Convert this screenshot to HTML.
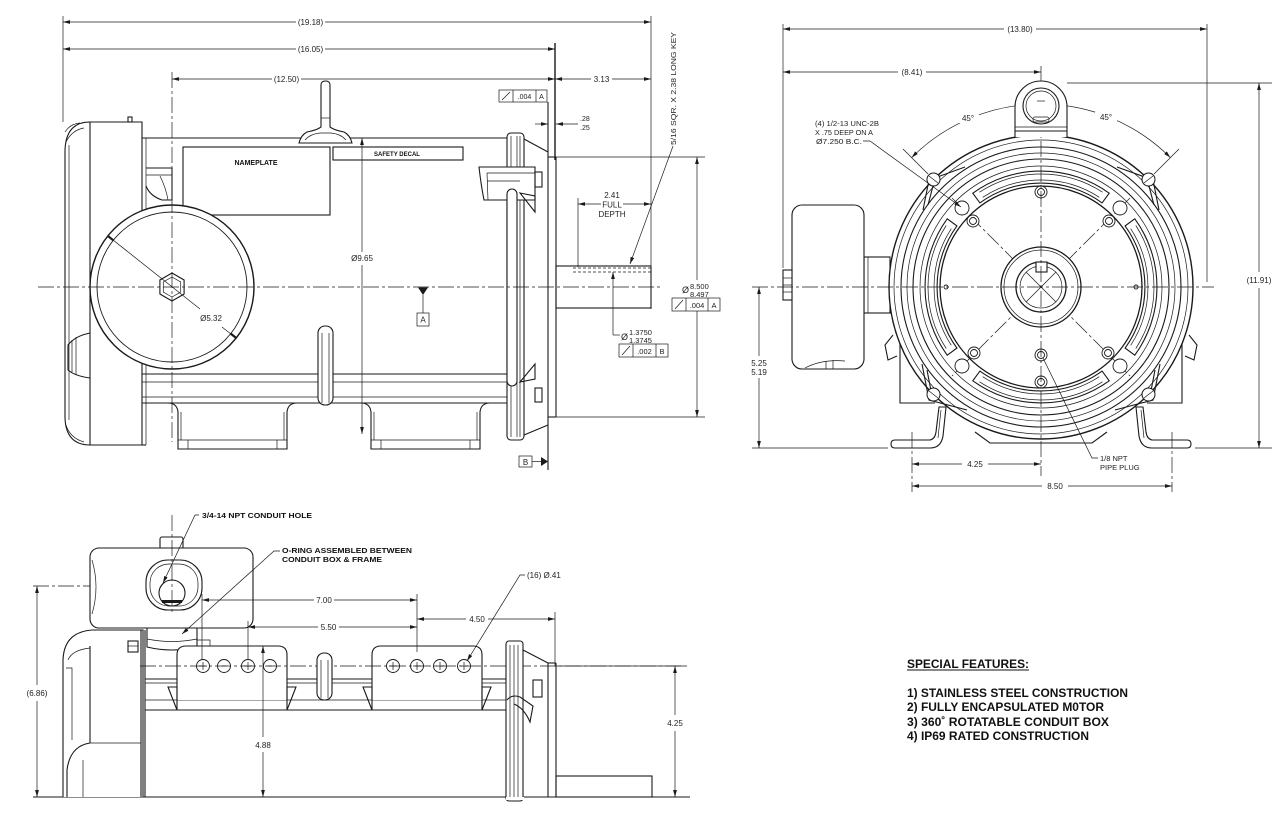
<!DOCTYPE html>
<html><head><meta charset="utf-8"><style>
html,body{margin:0;padding:0;background:#fff}
svg{display:block}
.o{fill:none;stroke:#1a1a1a;stroke-width:1.1}
.w{fill:#fff;stroke:#1a1a1a;stroke-width:1.1}
.th{fill:none;stroke:#1a1a1a;stroke-width:0.7}
.d{fill:none;stroke:#1a1a1a;stroke-width:0.7}
.cl{fill:none;stroke:#1a1a1a;stroke-width:0.7;stroke-dasharray:16 3 3 3}
.t{font-family:"Liberation Sans",Arial,sans-serif;font-size:8px;fill:#222}
.b{font-family:"Liberation Sans",Arial,sans-serif;font-weight:bold;fill:#111}
</style></head><body>
<svg width="1280" height="824" viewBox="0 0 1280 824" xmlns="http://www.w3.org/2000/svg">
<defs>
<marker id="a" viewBox="0 0 10 6" refX="10" refY="3" markerWidth="7" markerHeight="4.2" markerUnits="userSpaceOnUse" orient="auto-start-reverse"><path d="M0 0.3 L10 3 L0 5.7z" fill="#1a1a1a"/></marker>
</defs>
<rect width="1280" height="824" fill="#fff"/>

<!-- ================= TOP-LEFT SIDE VIEW ================= -->
<g>
<!-- extension lines -->
<line class="d" x1="63" y1="16" x2="63" y2="122"/>
<line class="d" x1="651" y1="16" x2="651" y2="309"/>
<line class="o" x1="555" y1="43" x2="555" y2="160" style="stroke-width:1.4"/>
<!-- 19.18 -->
<line class="d" x1="63" y1="22" x2="296" y2="22" marker-start="url(#a)"/>
<line class="d" x1="325" y1="22" x2="651" y2="22" marker-end="url(#a)"/>
<text class="t" x="310.5" y="25" text-anchor="middle">(19.18)</text>
<!-- 16.05 -->
<line class="d" x1="63" y1="49" x2="296" y2="49" marker-start="url(#a)"/>
<line class="d" x1="325" y1="49" x2="555" y2="49" marker-end="url(#a)"/>
<text class="t" x="310.5" y="52" text-anchor="middle">(16.05)</text>
<!-- 12.50 / 3.13 -->
<line class="d" x1="172" y1="79" x2="272" y2="79" marker-start="url(#a)"/>
<line class="d" x1="301" y1="79" x2="555" y2="79" marker-end="url(#a)"/>
<text class="t" x="286.5" y="82" text-anchor="middle">(12.50)</text>
<line class="d" x1="555" y1="79" x2="591" y2="79" marker-start="url(#a)"/>
<line class="d" x1="612" y1="79" x2="651" y2="79" marker-end="url(#a)"/>
<text class="t" x="601.5" y="82" text-anchor="middle">3.13</text>
<!-- FCF .004 A top -->
<rect class="th" x="499" y="90" width="48" height="12"/>
<line class="th" x1="513" y1="90" x2="513" y2="102"/>
<line class="th" x1="536" y1="90" x2="536" y2="102"/>
<line class="th" x1="502" y1="100" x2="510" y2="92"/>
<text class="t" x="524.5" y="99" text-anchor="middle" style="font-size:7px">.004</text>
<text class="t" x="541.5" y="99" text-anchor="middle" style="font-size:7px">A</text>
<line class="o" x1="548" y1="102" x2="548" y2="470"/>
<!-- .28/.25 -->
<line class="d" x1="535" y1="124" x2="548" y2="124" marker-end="url(#a)"/>
<line class="d" x1="578" y1="124" x2="556" y2="124" marker-end="url(#a)"/>
<text class="t" x="580" y="121" style="font-size:7px">.28</text>
<text class="t" x="580" y="130" style="font-size:7px">.25</text>

<!-- fan cover -->
<path class="w" d="M142 122 L90 122 Q66 122 65 150 L65 418 Q66 445 90 445 L142 445 Z"/>
<line class="o" x1="90" y1="122" x2="90" y2="445"/>
<line class="th" x1="69" y1="145" x2="69" y2="420"/>
<path class="th" d="M65 132 Q70 124 80 123 M66 142 Q72 130 84 128"/>
<path class="o" d="M90 333 Q75 336 68 345 L68 370 Q75 376 90 378"/>
<path class="th" d="M72 340 L72 372 M76 337 L76 375"/>
<path class="th" d="M66 425 Q70 438 84 442"/>
<rect class="o" x="128" y="117" width="4" height="5"/>

<!-- body -->
<line class="o" x1="142" y1="138" x2="507" y2="138"/>
<line class="th" x1="146" y1="138" x2="146" y2="445"/>
<path class="o" d="M146 168 L172 168 L172 200 L162 200 Q150 196 146 186"/>
<line class="th" x1="146" y1="175" x2="172" y2="175"/>
<path class="th" d="M160 176 Q166 188 168 200"/>
<line class="o" x1="142" y1="374" x2="507" y2="374"/>
<line class="th" x1="142" y1="382" x2="507" y2="382"/>
<line class="th" x1="142" y1="397" x2="507" y2="397"/>
<line class="o" x1="142" y1="403" x2="507" y2="403"/>
<line class="o" x1="142" y1="445" x2="146" y2="445"/>

<!-- feet -->
<g id="foot">
<path class="o" d="M168 403 Q177 403 178 412 L178 449 L287 449 L287 412 Q288 403 297 403"/>
<line class="th" x1="181" y1="412" x2="181" y2="440"/>
<line class="th" x1="284" y1="412" x2="284" y2="440"/>
<line class="th" x1="178" y1="440" x2="287" y2="440"/>
<line class="th" x1="188" y1="440" x2="188" y2="449"/>
<line class="th" x1="277" y1="440" x2="277" y2="449"/>
</g>
<use href="#foot" transform="translate(193,0)"/>

<!-- nameplate -->
<rect class="o" x="183" y="147" width="147" height="68"/>
<text class="b" x="256" y="165" text-anchor="middle" style="font-size:7px">NAMEPLATE</text>
<rect class="o" x="333" y="147" width="130" height="13"/>
<text class="b" x="397" y="156" text-anchor="middle" style="font-size:6px">SAFETY DECAL</text>

<!-- lifting eye side -->
<path class="w" d="M321 127 L321 85 Q321 81 325.5 81 Q330 81 330 85 L330 127 Q334 130 344 132 Q350 135 352 143 L299 143 Q301 135 307 132 Q317 130 321 127 Z"/>
<path class="th" d="M305 140 Q310 134 320 133 L331 133 Q341 134 346 140"/>
<line class="th" x1="321" y1="118" x2="330" y2="118"/>

<!-- rib -->
<rect class="w" x="318" y="326" width="15" height="79" rx="7"/>
<line class="th" x1="322" y1="333" x2="322" y2="403"/>
<line class="th" x1="329" y1="333" x2="329" y2="403"/>

<!-- endbell -->
<rect class="w" x="507" y="133" width="17" height="307" rx="4"/>
<line class="th" x1="511" y1="136" x2="511" y2="437"/>
<line class="th" x1="517" y1="136" x2="517" y2="437"/>
<line class="th" x1="520" y1="136" x2="520" y2="437"/>
<line class="o" x1="524" y1="139" x2="548" y2="152"/>
<line class="o" x1="524" y1="435" x2="548" y2="425"/>
<path class="w" d="M479 167 L535 167 L535 200 L484 200 Q481 185 479 167 Z"/>
<line class="th" x1="487" y1="173" x2="535" y2="173"/>
<line class="th" x1="487" y1="181" x2="520" y2="181"/>
<line class="th" x1="487" y1="173" x2="488" y2="200"/>
<rect class="w" x="507" y="189" width="10" height="197" rx="5"/>
<path class="o" d="M520 193 L535 196 L535 212 Z"/>
<path class="o" d="M520 382 L535 364 L535 379 Z"/>
<rect class="o" x="535" y="172" width="7" height="15"/>
<rect class="o" x="535" y="388" width="7" height="14"/>
<!-- flange pilot + shaft -->
<line class="o" x1="556" y1="157" x2="556" y2="417"/>
<line class="o" x1="548" y1="157" x2="556" y2="157"/>
<line class="o" x1="548" y1="417" x2="556" y2="417"/>
<line class="d" x1="556" y1="157" x2="705" y2="157"/>
<line class="d" x1="556" y1="417" x2="705" y2="417"/>
<rect class="o" x="556" y="266" width="95" height="42"/>
<line class="th" x1="573" y1="268" x2="651" y2="268" style="stroke-dasharray:3 2"/>
<line class="th" x1="573" y1="272" x2="651" y2="272" style="stroke-dasharray:3 2"/>

<!-- fan circle -->
<circle class="w" cx="172" cy="287" r="82" style="stroke-width:1.4"/>
<circle class="th" cx="172" cy="287" r="75" style="stroke-width:0.9"/>
<polygon class="o" points="172,273 184.1,280 184.1,294 172,301 159.9,294 159.9,280"/>
<polygon class="th" points="172,277 180.7,282 180.7,292 172,297 163.3,292 163.3,282"/>
<line class="d" x1="108" y1="236" x2="200" y2="309"/>
<line class="d" x1="222" y1="327" x2="236" y2="338"/>
<line x1="107.8" y1="235.9" x2="113.3" y2="240.3" stroke="#1a1a1a" stroke-width="2.2"/>
<line x1="230.7" y1="333.6" x2="236.2" y2="338" stroke="#1a1a1a" stroke-width="2.2"/>
<text class="t" x="211" y="321" text-anchor="middle">Ø5.32</text>
<!-- centerlines -->
<line class="cl" x1="172" y1="72" x2="172" y2="442"/>
<line class="cl" x1="38" y1="287" x2="662" y2="287"/>

<!-- 9.65 -->
<line class="d" x1="362" y1="138" x2="362" y2="252" marker-start="url(#a)"/>
<line class="d" x1="362" y1="265" x2="362" y2="434" marker-end="url(#a)"/>
<text class="t" x="362" y="261" text-anchor="middle">Ø9.65</text>
<!-- datum A -->
<polygon points="418,287.5 428,287.5 423,295" fill="#1a1a1a"/>
<line class="d" x1="423" y1="295" x2="423" y2="313"/>
<rect class="th" x="417" y="313" width="12" height="13"/>
<text class="t" x="423" y="322.5" text-anchor="middle">A</text>

<!-- 2.41 full depth -->
<line class="d" x1="578" y1="198" x2="578" y2="267"/>
<line class="d" x1="578" y1="204" x2="601" y2="204" marker-start="url(#a)"/>
<line class="d" x1="623" y1="204" x2="651" y2="204" marker-end="url(#a)"/>
<text class="t" x="612" y="198" text-anchor="middle">2.41</text>
<text class="t" x="612" y="207.5" text-anchor="middle">FULL</text>
<text class="t" x="612" y="217" text-anchor="middle">DEPTH</text>
<!-- key note -->
<line class="d" x1="673" y1="146" x2="630" y2="264" marker-end="url(#a)"/>
<text class="t" transform="translate(676,145) rotate(-90)" textLength="113" lengthAdjust="spacingAndGlyphs" style="font-size:7.5px">5/16 SQR. X 2.38 LONG KEY</text>
<!-- 8.500 -->
<line class="d" x1="697" y1="157" x2="697" y2="280" marker-start="url(#a)"/>
<line class="d" x1="697" y1="311" x2="697" y2="417" marker-end="url(#a)"/>
<text class="t" x="682" y="293" style="font-size:9px">Ø</text>
<text class="t" x="690" y="289" style="font-size:7.5px">8.500</text>
<text class="t" x="690" y="297" style="font-size:7.5px">8.497</text>
<rect class="th" x="672" y="298" width="48" height="13" fill="#fff"/>
<line class="th" x1="686" y1="298" x2="686" y2="311"/>
<line class="th" x1="708" y1="298" x2="708" y2="311"/>
<line class="th" x1="675" y1="309" x2="683" y2="300"/>
<text class="t" x="697" y="308" text-anchor="middle" style="font-size:7.5px">.004</text>
<text class="t" x="714" y="308" text-anchor="middle" style="font-size:7.5px">A</text>
<!-- 1.3750 -->
<line class="d" x1="613" y1="272" x2="613" y2="335" marker-start="url(#a)"/>
<line class="d" x1="613" y1="335" x2="620" y2="335"/>
<text class="t" x="621" y="340" style="font-size:9px">Ø</text>
<text class="t" x="629" y="335" style="font-size:7.5px">1.3750</text>
<text class="t" x="629" y="343" style="font-size:7.5px">1.3745</text>
<rect class="th" x="619" y="344" width="49" height="13"/>
<line class="th" x1="633" y1="344" x2="633" y2="357"/>
<line class="th" x1="656" y1="344" x2="656" y2="357"/>
<line class="th" x1="622" y1="355" x2="630" y2="346"/>
<text class="t" x="644.5" y="354" text-anchor="middle" style="font-size:7.5px">.002</text>
<text class="t" x="662" y="354" text-anchor="middle" style="font-size:7.5px">B</text>
<!-- datum B -->
<rect class="th" x="519" y="456" width="13" height="11"/>
<text class="t" x="525.5" y="465" text-anchor="middle">B</text>
<line class="d" x1="532" y1="461.5" x2="542" y2="461.5"/>
<polygon points="541,457 548,461.5 541,466" fill="#1a1a1a"/>
</g>

<!-- ================= FRONT VIEW ================= -->
<g>
<line class="d" x1="783" y1="24" x2="783" y2="268"/>
<line class="d" x1="1207" y1="24" x2="1207" y2="282"/>
<line class="d" x1="783" y1="29" x2="1004" y2="29" marker-start="url(#a)"/>
<line class="d" x1="1036" y1="29" x2="1207" y2="29" marker-end="url(#a)"/>
<text class="t" x="1020" y="32" text-anchor="middle">(13.80)</text>
<line class="d" x1="783" y1="72" x2="898" y2="72" marker-start="url(#a)"/>
<line class="d" x1="926" y1="72" x2="1041" y2="72" marker-end="url(#a)"/>
<text class="t" x="912" y="75" text-anchor="middle">(8.41)</text>
<!-- 11.91 -->
<line class="d" x1="1067" y1="83" x2="1272" y2="83"/>
<line class="d" x1="1195" y1="448" x2="1272" y2="448"/>
<line class="d" x1="1259" y1="83" x2="1259" y2="272" marker-start="url(#a)"/>
<line class="d" x1="1259" y1="288" x2="1259" y2="448" marker-end="url(#a)"/>
<text class="t" x="1259" y="283" text-anchor="middle">(11.91)</text>
<!-- 5.25 -->
<line class="d" x1="752" y1="448" x2="888" y2="448"/>
<line class="d" x1="759" y1="287" x2="759" y2="356" marker-start="url(#a)"/>
<line class="d" x1="759" y1="378" x2="759" y2="448" marker-end="url(#a)"/>
<text class="t" x="759" y="366" text-anchor="middle">5.25</text>
<text class="t" x="759" y="375" text-anchor="middle">5.19</text>

<!-- conduit box front -->
<rect class="w" x="864" y="257" width="26" height="56"/>
<line class="th" x1="868" y1="257" x2="868" y2="313"/>
<rect class="w" x="792" y="205" width="72" height="164" rx="10"/>
<path class="th" d="M805 368 Q822 359 845 361"/>
<line class="th" x1="826" y1="361" x2="826" y2="369"/>
<line class="th" x1="833" y1="360" x2="833" y2="369"/>
<rect class="w" x="783" y="270" width="9" height="30"/>
<line class="th" x1="783" y1="278" x2="792" y2="278"/>
<line class="th" x1="783" y1="285" x2="792" y2="285"/>
<line class="th" x1="783" y1="292" x2="792" y2="292"/>

<!-- lower frame structure -->
<path class="o" d="M900 340 L900 403 L935 403 M1182 340 L1182 403 L1147 403"/>
<path class="o" d="M975 432 L990 443 L1092 443 L1107 432"/>
<!-- frame circles -->
<circle class="w" cx="1041" cy="287" r="152" style="stroke-width:1.4"/>
<circle class="th" cx="1041" cy="287" r="147"/>
<circle class="o" cx="1041" cy="287" r="140"/>
<circle class="th" cx="1041" cy="287" r="134"/>
<circle class="o" cx="1041" cy="287" r="128"/>
<circle class="th" cx="1041" cy="287" r="121"/>
<circle class="o" cx="1041" cy="287" r="101" style="stroke-width:1.3"/>
<!-- windows -->
<g id="win">
<path class="o" d="M972.8 193.2 A116 116 0 0 1 1109.2 193.2 L1102.1 202.9 A104 104 0 0 0 979.9 202.9 Z"/>
<path class="th" d="M979.5 192.2 A113 113 0 0 1 1102.5 192.2 M982.7 197.3 A107 107 0 0 1 1099.3 197.3"/>
</g>
<use href="#win" transform="rotate(90 1041 287)"/>
<use href="#win" transform="rotate(180 1041 287)"/>
<use href="#win" transform="rotate(270 1041 287)"/>
<!-- diagonal centerlines -->
<line class="cl" x1="952" y1="198" x2="1130" y2="376"/>
<line class="cl" x1="1130" y1="198" x2="952" y2="376"/>
<!-- hub -->
<circle class="w" cx="1041" cy="287" r="40" style="stroke-width:1.3"/>
<circle class="th" cx="1041" cy="287" r="37"/>
<circle class="w" cx="1041" cy="287" r="25" style="stroke-width:1.3"/>
<circle class="th" cx="1041" cy="287" r="21"/>
<rect class="w" x="1036" y="262" width="11" height="10"/>
<line class="th" x1="1026" y1="272" x2="1056" y2="302"/>
<line class="th" x1="1056" y1="272" x2="1026" y2="302"/>
<!-- holes -->
<g fill="#fff" stroke="#1a1a1a" stroke-width="0.9">
<circle cx="1041" cy="192" r="6"/><circle cx="1041" cy="192" r="3.5"/>
<circle cx="973" cy="221" r="6"/><circle cx="973" cy="221" r="3.5"/>
<circle cx="1109" cy="221" r="6"/><circle cx="1109" cy="221" r="3.5"/>
<circle cx="974" cy="353" r="6"/><circle cx="974" cy="353" r="3.5"/>
<circle cx="1108" cy="353" r="6"/><circle cx="1108" cy="353" r="3.5"/>
<circle cx="1041" cy="355" r="6"/><circle cx="1041" cy="355" r="3.5"/>
<circle cx="1041" cy="382" r="6"/><circle cx="1041" cy="382" r="3.5"/>
<circle cx="946" cy="287" r="2"/><circle cx="1136" cy="287" r="2"/>
<circle cx="962" cy="208" r="7"/><circle cx="1120" cy="208" r="7"/>
<circle cx="962" cy="366" r="7"/><circle cx="1120" cy="366" r="7"/>
</g>
<!-- clips / bolts -->
<path class="o" d="M923 210 L929 180 L965 167 M928 205 L933 186"/>
<path class="o" d="M1159 210 L1153 180 L1117 167 M1154 205 L1149 186"/>
<path class="o" d="M922 364 L929 400 L967 410 M927 370 L932 396"/>
<path class="o" d="M1160 364 L1153 400 L1115 410 M1155 370 L1150 396"/>
<path class="o" d="M893 335 L885 345 L888 360 L897 356"/>
<path class="o" d="M1189 335 L1197 345 L1194 360 L1185 356"/>
<g fill="#fff" stroke="#1a1a1a" stroke-width="1">
<circle cx="933.5" cy="179.5" r="6.5"/><circle cx="1148.5" cy="179.5" r="6.5"/>
<circle cx="933.5" cy="394.5" r="6.5"/><circle cx="1148.5" cy="394.5" r="6.5"/>
</g>
<path class="th" d="M929 176 L938 183 M1144 183 L1153 176 M929 391 L938 398 M1144 398 L1153 391"/>
<!-- feet -->
<path class="w" d="M895 440 L930 440 Q935 439 936 432 L939 407 L946 407 L943 436 Q941 448 930 448 L895 448 Q891 448 891 444 Q891 440 895 440 Z"/>
<path class="w" d="M1187 440 L1152 440 Q1147 439 1146 432 L1143 407 L1136 407 L1139 436 Q1141 448 1152 448 L1187 448 Q1191 448 1191 444 Q1191 440 1187 440 Z"/>
<line class="th" x1="941" y1="410" x2="938" y2="438"/>
<line class="th" x1="1141" y1="410" x2="1144" y2="438"/>
<!-- centerlines -->
<line class="cl" x1="752" y1="287" x2="1214" y2="287"/>
<line class="cl" x1="1041" y1="66" x2="1041" y2="476"/>
<line class="cl" x1="912" y1="432" x2="912" y2="492"/>
<line class="cl" x1="1172" y1="432" x2="1172" y2="492"/>
<!-- 45° arcs -->
<line class="d" x1="928" y1="174" x2="903" y2="149"/>
<line class="d" x1="1154" y1="174" x2="1179" y2="149"/>
<path class="d" d="M1041 104 A183 183 0 0 0 911.6 157.6" marker-start="url(#a)" marker-end="url(#a)"/>
<path class="d" d="M1041 104 A183 183 0 0 1 1170.4 157.6" marker-start="url(#a)" marker-end="url(#a)"/>
<rect x="957" y="113" width="22" height="10" fill="#fff"/>
<rect x="1095" y="112" width="22" height="10" fill="#fff"/>
<text class="t" x="968" y="121" text-anchor="middle">45°</text>
<text class="t" x="1106" y="120" text-anchor="middle">45°</text>
<!-- lifting eye front -->
<path class="w" d="M1015 137 L1015 107 A26 26 0 0 1 1067 107 L1067 137"/>
<circle class="o" cx="1041" cy="106" r="18"/>
<circle class="th" cx="1041" cy="106" r="15"/>
<rect class="th" x="1033" y="117" width="16" height="5" rx="2"/>
<line class="th" x1="1015" y1="127" x2="1067" y2="127"/>
<line class="o" x1="1015" y1="131" x2="1067" y2="131"/>
<line class="th" x1="1037" y1="101" x2="1045" y2="101"/>
<!-- note -->
<text class="t" x="815" y="126" textLength="64" lengthAdjust="spacingAndGlyphs" style="font-size:7.5px">(4) 1/2-13 UNC-2B</text>
<text class="t" x="815" y="135" textLength="58" lengthAdjust="spacingAndGlyphs" style="font-size:7.5px">X .75 DEEP ON A</text>
<text class="t" x="816" y="144" textLength="46" lengthAdjust="spacingAndGlyphs" style="font-size:7.5px">Ø7.250 B.C.</text>
<path class="d" d="M863 141 L870 141 L961 207" marker-end="url(#a)"/>
<!-- pipe plug -->
<path class="d" d="M1043 358 L1092 458 L1098 458"/>
<text class="t" x="1100" y="461" style="font-size:7.5px">1/8 NPT</text>
<text class="t" x="1100" y="470" style="font-size:7.5px">PIPE PLUG</text>
<!-- 4.25 / 8.50 -->
<line class="d" x1="912" y1="464" x2="962" y2="464" marker-start="url(#a)"/>
<line class="d" x1="988" y1="464" x2="1041" y2="464" marker-end="url(#a)"/>
<text class="t" x="975" y="467" text-anchor="middle">4.25</text>
<line class="d" x1="912" y1="486" x2="1042" y2="486" marker-start="url(#a)"/>
<line class="d" x1="1068" y1="486" x2="1172" y2="486" marker-end="url(#a)"/>
<text class="t" x="1055" y="489" text-anchor="middle">8.50</text>
</g>

<!-- ================= BOTTOM VIEW ================= -->
<g>
<line class="o" x1="33" y1="797" x2="690" y2="797"/>
<line class="cl" x1="33" y1="586" x2="215" y2="586"/>
<line class="d" x1="37" y1="586" x2="37" y2="685" marker-start="url(#a)"/>
<line class="d" x1="37" y1="701" x2="37" y2="797" marker-end="url(#a)"/>
<text class="t" x="37" y="696" text-anchor="middle">(6.86)</text>

<!-- fan cover side -->
<path class="w" d="M63 797 L63 660 Q64 632 92 630 L143 630 L143 797"/>
<line class="o" x1="90" y1="646" x2="90" y2="743"/>
<path class="o" d="M90 743 Q70 746 67 770 L67 797"/>
<line class="th" x1="83" y1="760" x2="83" y2="797"/>
<path class="th" d="M68 660 Q72 650 90 648 M66 668 L72 668 L72 740"/>
<line class="o" x1="141" y1="630" x2="141" y2="797"/>
<line class="o" x1="145" y1="630" x2="145" y2="797"/>
<line class="th" x1="90" y1="743" x2="141" y2="743"/>

<!-- body lines -->
<line class="o" x1="145" y1="679" x2="506" y2="679"/>
<line class="th" x1="145" y1="683" x2="506" y2="683"/>
<line class="th" x1="145" y1="700" x2="506" y2="700"/>
<line class="o" x1="145" y1="710" x2="506" y2="710"/>

<!-- conduit neck & box -->
<path class="w" d="M147 628 L147 647 Q172 653 197 647 L197 628 Z"/>
<path class="th" d="M147 639 Q172 644 197 639"/>
<path class="th" d="M197 640 L210 640 L210 652"/>
<rect class="w" x="128" y="641" width="10" height="11"/>
<line class="th" x1="128" y1="646" x2="138" y2="646"/>
<rect class="w" x="160" y="537" width="23" height="12" rx="2"/>
<rect class="w" x="90" y="548" width="163" height="80" rx="9"/>
<path class="th" d="M92 560 Q100 587 92 614"/>
<rect class="o" x="146" y="560" width="56" height="50" rx="22"/>
<rect class="th" x="150" y="564" width="48" height="42" rx="19"/>
<circle class="o" cx="172" cy="593" r="13"/>
<rect x="162" y="600" width="20" height="3" fill="#1a1a1a"/>
<line class="cl" x1="172" y1="515" x2="172" y2="612"/>

<!-- pads -->
<g id="pad">
<path class="w" d="M177 700 L177 655 Q177 646 186 646 L278 646 Q287 646 287 655 L287 700"/>
<path class="o" d="M168 687 L177 687 L177 710 Z M296 687 L287 687 L287 710 Z"/>
<line class="o" x1="177" y1="710" x2="287" y2="710"/>
</g>
<use href="#pad" transform="translate(195,0)"/>
<g fill="#fff" stroke="#1a1a1a" stroke-width="0.9">
<circle cx="203" cy="666" r="6.5"/><circle cx="224" cy="666" r="6.5"/>
<circle cx="248" cy="666" r="6.5"/><circle cx="270" cy="666" r="6.5"/>
<circle cx="393" cy="666" r="6.5"/><circle cx="417" cy="666" r="6.5"/>
<circle cx="440" cy="666" r="6.5"/><circle cx="464" cy="666" r="6.5"/>
</g>
<path class="th" d="M199 666 H207 M203 662 V670 M244 666 H252 M248 662 V670 M389 666 H397 M393 662 V670 M413 666 H421 M417 662 V670 M436 666 H444 M440 662 V670 M460 666 H468 M464 662 V670 M222 666 H226 M268 666 H272"/>
<line class="cl" x1="140" y1="666" x2="690" y2="666"/>
<!-- rib -->
<rect class="w" x="317" y="653" width="15" height="47" rx="7"/>
<line class="th" x1="321" y1="660" x2="321" y2="698"/>
<line class="th" x1="328" y1="660" x2="328" y2="698"/>

<!-- right end -->
<rect class="w" x="506" y="641" width="17" height="160" rx="3"/>
<line class="th" x1="510" y1="645" x2="510" y2="797"/>
<line class="th" x1="514" y1="645" x2="514" y2="797"/>
<line class="th" x1="518" y1="645" x2="518" y2="797"/>
<line class="o" x1="523" y1="650" x2="548" y2="663"/>
<line class="o" x1="548" y1="663" x2="548" y2="797"/>
<line class="o" x1="556" y1="663" x2="556" y2="797"/>
<line class="o" x1="548" y1="663" x2="556" y2="663"/>
<rect class="o" x="533" y="680" width="9" height="17"/>
<path class="o" d="M507 700 Q512 694 520 697 L533 706 L530 722 Q524 708 514 704"/>
<rect class="o" x="556" y="776" width="96" height="21"/>
<rect x="506" y="797" width="18" height="3" fill="#fff"/>

<!-- dims -->
<line class="d" x1="202" y1="594" x2="202" y2="660"/>
<line class="d" x1="417" y1="594" x2="417" y2="652"/>
<line class="d" x1="248" y1="621" x2="248" y2="660"/>
<line class="d" x1="555" y1="612" x2="555" y2="666"/>
<line class="d" x1="202" y1="600" x2="314" y2="600" marker-start="url(#a)"/>
<line class="d" x1="334" y1="600" x2="417" y2="600" marker-end="url(#a)"/>
<text class="t" x="324" y="603" text-anchor="middle">7.00</text>
<line class="d" x1="248" y1="627" x2="318" y2="627" marker-start="url(#a)"/>
<line class="d" x1="339" y1="627" x2="417" y2="627" marker-end="url(#a)"/>
<text class="t" x="328.5" y="630" text-anchor="middle">5.50</text>
<line class="d" x1="417" y1="619" x2="466" y2="619" marker-start="url(#a)"/>
<line class="d" x1="488" y1="619" x2="555" y2="619" marker-end="url(#a)"/>
<text class="t" x="477" y="622" text-anchor="middle">4.50</text>
<line class="d" x1="263" y1="646" x2="263" y2="737" marker-start="url(#a)"/>
<line class="d" x1="263" y1="752" x2="263" y2="797" marker-end="url(#a)"/>
<text class="t" x="263" y="748" text-anchor="middle">4.88</text>
<line class="d" x1="556" y1="666" x2="684" y2="666"/>
<line class="d" x1="675" y1="666" x2="675" y2="715" marker-start="url(#a)"/>
<line class="d" x1="675" y1="731" x2="675" y2="797" marker-end="url(#a)"/>
<text class="t" x="675" y="726" text-anchor="middle">4.25</text>

<!-- leaders -->
<text class="b" x="202" y="518" textLength="110" lengthAdjust="spacingAndGlyphs" style="font-size:7.5px">3/4-14 NPT CONDUIT HOLE</text>
<path class="d" d="M199 515 L195 515 L163 583" marker-end="url(#a)"/>
<text class="b" x="282" y="553" textLength="130" lengthAdjust="spacingAndGlyphs" style="font-size:7.5px">O-RING ASSEMBLED BETWEEN</text>
<text class="b" x="282" y="562" textLength="100" lengthAdjust="spacingAndGlyphs" style="font-size:7.5px">CONDUIT BOX &amp; FRAME</text>
<path class="d" d="M280 551 L274 551 L182 634" marker-end="url(#a)"/>
<text class="t" x="527" y="578">(16) Ø.41</text>
<path class="d" d="M525 575 L520 575 L467 661" marker-end="url(#a)"/>
</g>

<!-- ================= SPECIAL FEATURES ================= -->
<g>
<text class="b" x="907" y="668" textLength="122" lengthAdjust="spacingAndGlyphs" style="font-size:12px">SPECIAL FEATURES:</text>
<line x1="907" y1="670" x2="1029" y2="670" stroke="#111" stroke-width="1"/>
<text class="b" x="907" y="697" textLength="221" lengthAdjust="spacingAndGlyphs" style="font-size:11.5px">1) STAINLESS STEEL CONSTRUCTION</text>
<text class="b" x="907" y="711" textLength="197" lengthAdjust="spacingAndGlyphs" style="font-size:11.5px">2) FULLY ENCAPSULATED M0TOR</text>
<text class="b" x="907" y="726" textLength="202" lengthAdjust="spacingAndGlyphs" style="font-size:11.5px">3) 360˚ ROTATABLE CONDUIT BOX</text>
<text class="b" x="907" y="740" textLength="182" lengthAdjust="spacingAndGlyphs" style="font-size:11.5px">4) IP69 RATED CONSTRUCTION</text>
</g>
</svg>
</body></html>
